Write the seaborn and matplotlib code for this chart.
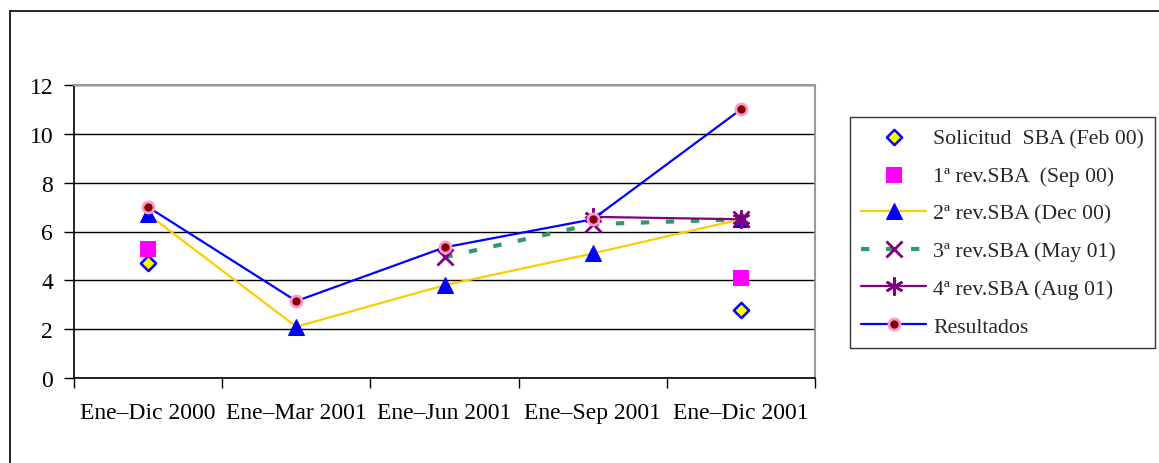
import matplotlib
matplotlib.use("Agg")
import matplotlib.pyplot as plt
from matplotlib.lines import Line2D
import seaborn as sns
import numpy as np

categories = ["Ene\u2013Dic 2000", "Ene\u2013Mar 2001", "Ene\u2013Jun 2001", "Ene\u2013Sep 2001", "Ene\u2013Dic 2001"]

solicitud_idx = [0, 4]
solicitud_val = [4.7, 2.8]
rev1_idx = [0, 4]
rev1_val = [5.3, 4.1]
rev2_idx = [0, 1, 2, 3, 4]
rev2_val = [6.7, 2.1, 3.8, 5.1, 6.5]
rev3_idx = [2, 3, 4]
rev3_val = [4.95, 6.3, 6.5]
rev4_idx = [3, 4]
rev4_val = [6.6, 6.5]
result_idx = [0, 1, 2, 3, 4]
result_val = [7.0, 3.15, 5.35, 6.5, 11.0]

labels = ["Solicitud  SBA (Feb 00)", "1\u00aa rev.SBA  (Sep 00)", "2\u00aa rev.SBA (Dec 00)",
          "3\u00aa rev.SBA (May 01)", "4\u00aa rev.SBA (Aug 01)", "Resultados"]
yticks = [0, 2, 4, 6, 8, 10, 12]

sns.set_theme(style="white")
plt.rcParams['font.family'] = ['Liberation Serif', 'DejaVu Serif']

W, H = 1159, 464
fig = plt.figure(figsize=(W / 100, H / 100), dpi=100)
ax = fig.add_axes([74 / W, 1 - 379 / H, (815 - 74) / W, (379 - 86) / H])

asterisk = (6, 2, 0)

sns.lineplot(x=rev2_idx, y=rev2_val, ax=ax, color="#FFCC00", lw=1.6, marker="^",
             markersize=12, markerfacecolor="#0000FF", markeredgecolor="#0000FF", label=labels[2], zorder=3)
sns.lineplot(x=rev3_idx, y=rev3_val, ax=ax, color="#339966", lw=3.0, marker="x",
             markersize=11, markeredgecolor="#800080", markeredgewidth=2.0, label=labels[3],
             dashes=(2.0, 4.0), zorder=3)
sns.lineplot(x=rev4_idx, y=rev4_val, ax=ax, color="#800080", lw=1.6, marker=asterisk,
             markersize=13, markeredgecolor="#800080", markeredgewidth=1.8, label=labels[4], zorder=4)
sns.lineplot(x=result_idx, y=result_val, ax=ax, color="#0000FF", lw=1.6, marker="o",
             markersize=8, markerfacecolor="#800000", markeredgecolor="#FF99CC", markeredgewidth=2.0,
             label=labels[5], zorder=5)
sns.scatterplot(x=solicitud_idx, y=solicitud_val, ax=ax, marker="D", s=60, color="#FFFF00",
                edgecolor="#0000FF", linewidth=1.8, label=labels[0], zorder=6)
sns.scatterplot(x=rev1_idx, y=rev1_val, ax=ax, marker="s", s=130, color="#FF00FF",
                edgecolor="#FF00FF", linewidth=0, label=labels[1], zorder=6)

ax.set_xlim(-0.5, 4.5)
ax.set_ylim(0, 12)
ax.set_yticks(yticks)
ax.set_yticklabels([str(v) for v in yticks])
ax.yaxis.grid(True, color="black", lw=1.0)
ax.xaxis.grid(False)
ax.set_axisbelow(True)

ax.set_xticks(np.arange(-0.5, 5.0, 1.0))
ax.set_xticklabels([])
ax.set_xticks(range(len(categories)), minor=True)
ax.set_xticklabels(categories, minor=True)
ax.tick_params(axis="x", which="major", direction="out", length=7, width=1, color="black", bottom=True)
ax.tick_params(axis="x", which="minor", length=0, pad=17, labelsize=17, colors="black")
ax.tick_params(axis="y", direction="out", length=7, width=1, color="black", left=True, pad=8,
               labelsize=17, labelcolor="black")

for s in ["left", "bottom"]:
    ax.spines[s].set_color("black")
    ax.spines[s].set_linewidth(1.2)
for s in ["top", "right"]:
    ax.spines[s].set_color("#999999")
    ax.spines[s].set_linewidth(1.5)

# Legend
h, l = ax.get_legend_handles_labels()
hd = dict(zip(l, h))
handles = [hd[x] for x in labels]
leg = fig.legend(handles, labels, loc="upper left", bbox_to_anchor=(850 / W, 1 - 118 / H),
                 frameon=True, fancybox=False, edgecolor="black", fontsize=15.7,
                 handlelength=3.0, labelspacing=0.8, borderpad=0.5, handletextpad=0.3,
                 borderaxespad=0)
leg.get_frame().set_linewidth(1.0)
if ax.get_legend():
    ax.get_legend().remove()

# Outer chart border (top and left)
fig.add_artist(Line2D([10 / W, 1.0], [1 - 12 / H, 1 - 12 / H], color="black", lw=1.2, transform=fig.transFigure))
fig.add_artist(Line2D([10 / W, 10 / W], [0, 1 - 12 / H], color="black", lw=1.2, transform=fig.transFigure))

fig.savefig("out.png", dpi=100, facecolor="white")
